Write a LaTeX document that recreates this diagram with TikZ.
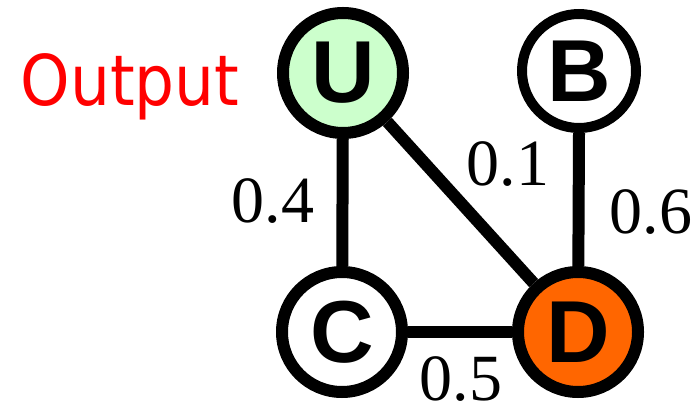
\documentclass[tikz,border=0pt]{standalone}
\usepackage{fontspec}
\setmainfont{Liberation Serif}
\newfontfamily\nodefont{Liberation Sans}
\newfontfamily\outfont[FakeStretch=0.9]{DejaVu Sans}
\definecolor{ugreen}{HTML}{CCFFCC}
\definecolor{dorange}{HTML}{FF6600}
\begin{document}
\begin{tikzpicture}[x=1pt,y=-1pt,
  vertex/.style={circle,draw=black,line width=12pt,fill=white,minimum size=120pt,inner sep=0pt,
    font=\nodefont\bfseries\fontsize{88}{88}\selectfont},
  edge/.style={line width=12pt},
  wlabel/.style={inner sep=0pt,font=\fontsize{66}{66}\selectfont}]
\useasboundingbox (0,0) rectangle (695,411);
\node[vertex,fill=ugreen] (U) at (343,73) {U};
\node[vertex,line width=10pt,minimum size=114pt] (B) at (579,71) {B};
\node[vertex] (C) at (342,332) {C};
\node[vertex,fill=dorange] (D) at (578,332) {D};
\draw[edge] (U) -- (C);
\draw[edge] (U) -- (D);
\draw[edge] (B.south) -- (D);
\draw[edge] (C) -- (D);
\node[wlabel] (l4) at (273,201) {0.4};
\node[wlabel] (l1) at (508,164) {0.1};
\node[wlabel] (l6) at (651,212) {0.6};
\node[wlabel] (l5) at (461,379) {0.5};
\node[anchor=base,inner sep=0pt,text=red,font=\outfont\fontsize{70}{70}\selectfont] (out) at (130,106) {Output};
\end{tikzpicture}
\end{document}
